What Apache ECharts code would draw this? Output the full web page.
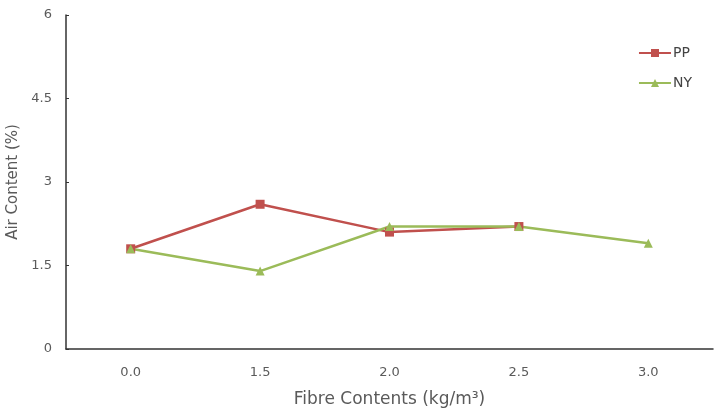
<!DOCTYPE html>
<html>
<head>
    <meta charset="utf-8">
    <title>Air Content</title>
    <script src="https://cdn.jsdelivr.net/npm/echarts@6/dist/echarts.min.js"></script>
    <style>
        html, body { margin: 0; padding: 0; background: #fff; }
        #chart { width: 725px; height: 411px; }
    </style>
</head>
<body>
<div id="chart"></div>
<script type="text/javascript">
    // data
    var categories = ['0.0', '1.5', '2.0', '2.5', '3.0'];
    var ppValues = [1.8, 2.6, 2.1, 2.2, null];
    var nyValues = [1.8, 1.4, 2.2, 2.2, 1.9];

    var textColor = '#5a5a5a';
    var axisColor = '#333';

    var myChart = echarts.init(document.getElementById('chart'));
    var option = {
        backgroundColor: '#fff',
        textStyle: { fontFamily: 'DejaVu Sans, sans-serif' },
        grid: { left: 66, right: 12, top: 15, bottom: 62, containLabel: false, outerBoundsMode: 'none' },
        legend: {
            orient: 'vertical',
            right: 28,
            top: 38,
            itemGap: 10,
            itemWidth: 32,
            itemHeight: 10,
            textStyle: { color: '#444', fontSize: 14, padding: [0, 0, 0, -3], lineHeight: 20 },
            data: ['PP', 'NY']
        },
        xAxis: {
            type: 'category',
            data: categories,
            boundaryGap: true,
            name: 'Fibre Contents (kg/m³)',
            nameLocation: 'middle',
            nameGap: 42,
            nameTextStyle: { color: textColor, fontSize: 17 },
            axisLine: { lineStyle: { color: axisColor, width: 1.5 } },
            axisTick: { inside: true, length: 4, lineStyle: { color: axisColor } },
            axisLabel: { color: textColor, fontSize: 13, margin: 17 }
        },
        yAxis: {
            type: 'value',
            min: 0,
            max: 6,
            interval: 1.5,
            name: 'Air Content (%)',
            nameLocation: 'middle',
            nameGap: 45,
            nameTextStyle: { color: textColor, fontSize: 15 },
            axisLine: { show: true, lineStyle: { color: axisColor, width: 1.5 } },
            axisTick: { show: true, inside: true, length: 3, lineStyle: { color: axisColor } },
            axisLabel: { color: textColor, fontSize: 13, margin: 14 },
            splitLine: { show: false }
        },
        series: [
            {
                name: 'PP',
                type: 'line',
                data: ppValues,
                symbol: 'rect',
                symbolSize: 9,
                itemStyle: { color: '#c0504d' },
                lineStyle: { color: '#c0504d', width: 2.5 }
            },
            {
                name: 'NY',
                type: 'line',
                data: nyValues,
                symbol: 'triangle',
                symbolSize: 9,
                itemStyle: { color: '#9bbb59' },
                lineStyle: { color: '#9bbb59', width: 2.5 }
            }
        ]
    };
    myChart.setOption(option);
</script>
</body>
</html>
